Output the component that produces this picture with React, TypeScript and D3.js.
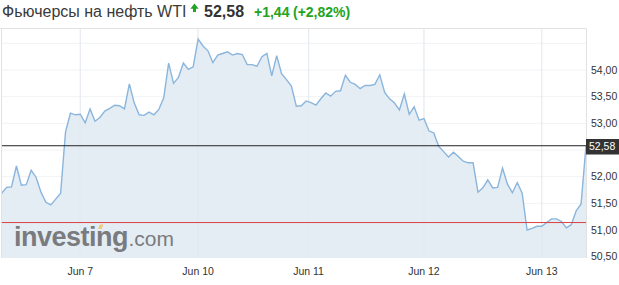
import React from "react";
import * as d3 from "d3";

const prices: number[] = [
  51.69, 51.8, 51.81, 52.2, 51.84, 51.85, 52.12, 51.99, 51.71, 51.52,
  51.47, 51.58, 51.69, 52.84, 53.19, 53.16, 53.17, 53.01, 53.27, 53.04,
  53.11, 53.23, 53.28, 53.34, 53.33, 53.27, 53.74, 53.38, 53.16, 53.15,
  53.21, 53.16, 53.26, 53.48, 54.13, 53.75, 53.86, 54.13, 54.01, 54.06,
  54.58, 54.45, 54.36, 54.14, 54.28, 54.31, 54.34, 54.28, 54.31, 54.29,
  54.1, 54.1, 54.07, 54.25, 54.31, 53.89, 54.27, 53.93, 53.82, 53.7,
  53.32, 53.33, 53.42, 53.39, 53.34, 53.46, 53.57, 53.51, 53.6, 53.61,
  53.9, 53.77, 53.73, 53.65, 53.71, 53.71, 53.73, 53.91, 53.58, 53.46,
  53.38, 53.25, 53.55, 53.17, 53.31, 53.06, 53.09, 52.86, 52.82, 52.57,
  52.47, 52.37, 52.46, 52.38, 52.29, 52.26, 52.26, 51.71, 51.79, 51.94,
  51.79, 51.8, 52.16, 51.86, 51.7, 51.89, 51.69, 51.0, 51.03, 51.07,
  51.07, 51.14, 51.21, 51.21, 51.16, 51.04, 51.1, 51.36, 51.49, 52.58,
];

const xTickIndex: number[] = [16, 40, 62.5, 86, 110];
const xTickLabels: string[] = ["Jun 7", "Jun 10", "Jun 11", "Jun 12", "Jun 13"];
const yGridValues: number[] = [54.5, 54, 53.5, 53, 52.5, 52, 51.5, 51, 50.5];
const yTickValues: number[] = [54, 53.5, 53, 52, 51.5, 51, 50.5];
const lastPrice = 52.58;
const prevClose = 51.14;
const titleText = "Фьючерсы на нефть WTI";
const lastText = "52,58";
const changeText = "+1,44";
const changePctText = "(+2,82%)";

const FONT = "Arial, 'Liberation Sans', sans-serif";
const GREEN = "#22a322";

export default function App() {
  const W = 619;
  const H = 285;
  const left = 1.5;
  const right = 586;
  const top = 28.5;
  const bottom = 258;

  const x = d3.scaleLinear().domain([0, prices.length - 1]).range([1.7, 586]);
  const y = d3.scaleLinear().domain([50.5, 54]).range([256.7, 70]);

  const line = d3
    .line<number>()
    .x((_, i) => x(i))
    .y((d) => y(d));
  const area = d3
    .area<number>()
    .x((_, i) => x(i))
    .y0(bottom)
    .y1((d) => y(d));

  const fmt = (v: number) => v.toFixed(2).replace(".", ",");

  return (
    <svg
      width={W}
      height={H}
      style={{ position: "absolute", left: 0, top: 0, background: "#fff" }}
      fontFamily={FONT}
    >
      {/* title */}
      <text x={2} y={16.5} fontSize={16} fill="#3a3a3a">
        {titleText}
      </text>
      <path d="M194.5,3.5 L198.6,8.8 L196,8.8 L196,12 L193,12 L193,8.8 L190.4,8.8 Z" fill={GREEN} />
      <text x={204} y={16.5} fontSize={16} fontWeight="bold" fill="#333">
        {lastText}
      </text>
      <text x={254} y={16.5} fontSize={14} fontWeight="bold" fill={GREEN}>
        {changeText}
      </text>
      <text x={293} y={16.5} fontSize={14} fontWeight="bold" fill={GREEN}>
        {changePctText}
      </text>

      {/* grid */}
      {yGridValues.map((v) => (
        <line key={"gy" + v} x1={left} x2={right} y1={y(v)} y2={y(v)} stroke="#f0f2f4" strokeWidth={1} />
      ))}
      {xTickIndex.map((t) => (
        <line key={"gx" + t} x1={x(t)} x2={x(t)} y1={top} y2={bottom} stroke="#eef0f3" strokeWidth={1} />
      ))}

      {/* area + line */}
      <path d={area(prices) || ""} fill="#e5edf4" />
      {xTickIndex.map((t) => (
        <line key={"gx2" + t} x1={x(t)} x2={x(t)} y1={top} y2={bottom} stroke="#dfe7ef" strokeWidth={1} opacity={0.6} />
      ))}

      {/* logo */}
      <g opacity={0.9}>
        <text x={14} y={246} fill="#6e6f72">
          <tspan fontSize={27} fontWeight="bold" letterSpacing={-0.5}>investing</tspan>
          <tspan fontSize={21} dx={0.5}>.com</tspan>
        </text>
        <path d="M98,229 L100,224.5 L103.5,224.5 L101.5,229 Z" fill="#f2c46e" />
      </g>

      <path d={line(prices) || ""} fill="none" stroke="#8ab5dd" strokeWidth={1.4} />

      {/* reference lines */}
      <line x1={left} x2={right} y1={y(prevClose)} y2={y(prevClose)} stroke="#d94040" strokeWidth={1} />
      <line x1={left} x2={right} y1={y(lastPrice)} y2={y(lastPrice)} stroke="#222" strokeWidth={1} />

      {/* frame */}
      <line x1={0} x2={right} y1={top} y2={top} stroke="#e2e2e2" strokeWidth={1} />
      <line x1={left} x2={left} y1={top} y2={bottom} stroke="#e2e2e2" strokeWidth={1} />
      <line x1={right + 0.5} x2={right + 0.5} y1={top} y2={bottom} stroke="#e2e2e2" strokeWidth={1} />

      {/* y labels */}
      {yTickValues.map((v) => (
        <text key={"yl" + v} x={591} y={y(v) + 3.5} fontSize={10.5} fill="#333">
          {fmt(v)}
        </text>
      ))}
      <rect x={586} y={139} width={33} height={15.5} fill="#333" />
      <text x={589} y={y(lastPrice) + 3.8} fontSize={10.5} fill="#fff">
        {fmt(lastPrice)}
      </text>

      {/* x labels */}
      {xTickIndex.map((t, i) => (
        <text key={"xl" + t} x={x(t)} y={275} fontSize={10.5} fill="#333" textAnchor="middle">
          {xTickLabels[i]}
        </text>
      ))}
    </svg>
  );
}
